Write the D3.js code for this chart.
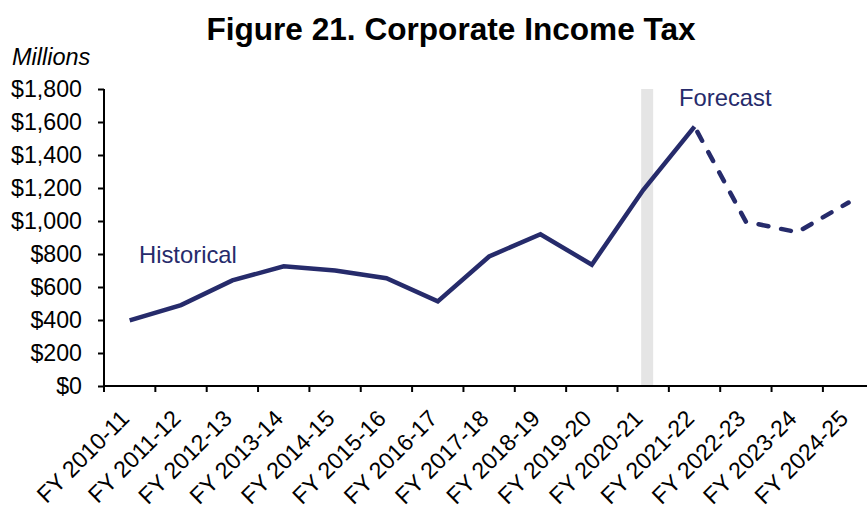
<!DOCTYPE html>
<html>
<head>
<meta charset="utf-8">
<script src="https://cdn.jsdelivr.net/npm/d3@7"></script>
<style>
  html, body { margin: 0; padding: 0; background: #fff; }
  svg { display: block; font-family: "Liberation Sans", Arial, sans-serif; }
</style>
</head>
<body>
<svg id="chart" width="867" height="508"></svg>
<script>
// Corporate income tax collections, millions of dollars, by fiscal year
const fiscalYears = [
  "FY 2010-11", "FY 2011-12", "FY 2012-13", "FY 2013-14", "FY 2014-15",
  "FY 2015-16", "FY 2016-17", "FY 2017-18", "FY 2018-19", "FY 2019-20",
  "FY 2020-21", "FY 2021-22", "FY 2022-23", "FY 2023-24", "FY 2024-25"
];
const revenue = [398, 490, 640, 725, 700, 653, 513, 785, 920, 735, 1188, 1572, 996, 932, 1112];
const yTickValues = [0, 200, 400, 600, 800, 1000, 1200, 1400, 1600, 1800];
const lastActualYear = "FY 2020-21";
const firstForecastYear = "FY 2021-22";

const navy = "#262b6b";
const tickFont = 23.2;
const svg = d3.select("#chart");

const plotLeft = 104, plotTop = 89, plotBottom = 386;
const step = 51.35;

const x = d3.scaleBand()
  .domain(fiscalYears)
  .range([plotLeft, plotLeft + step * fiscalYears.length])
  .paddingInner(0).paddingOuter(0);

const y = d3.scaleLinear().domain([0, 1800]).range([plotBottom, plotTop]);

const cx = d => x(d) + x.bandwidth() / 2;

// Title
svg.append("text")
  .attr("x", 451).attr("y", 40)
  .attr("text-anchor", "middle")
  .attr("font-size", 31.6).attr("font-weight", "bold")
  .attr("fill", "#000")
  .text("Figure 21. Corporate Income Tax");

// Units label
svg.append("text")
  .attr("x", 12).attr("y", 65)
  .attr("font-size", 23.5).attr("font-style", "italic")
  .attr("fill", "#000")
  .text("Millions");

// Divider between actual and forecast years
svg.append("rect")
  .attr("x", cx(lastActualYear) - 2)
  .attr("y", y(1800))
  .attr("width", 12)
  .attr("height", y(0) - y(1800))
  .attr("fill", "#e5e5e5");

// Y axis
const yAxis = d3.axisLeft(y)
  .tickValues(yTickValues)
  .tickSize(6)
  .tickPadding(16)
  .tickFormat(d => "$" + d3.format(",")(d));

const gy = svg.append("g")
  .attr("transform", `translate(${plotLeft},0)`)
  .call(yAxis);
gy.select(".domain").attr("stroke", "#000").attr("stroke-width", 2)
  .attr("d", `M0,${plotTop}V${plotBottom}`);
gy.selectAll(".tick line").attr("stroke", "#000").attr("stroke-width", 2);
gy.selectAll(".tick text")
  .attr("font-size", tickFont).attr("fill", "#000")
  .attr("font-family", "Liberation Sans, Arial, sans-serif");

// X axis with ticks at category boundaries
const gx = svg.append("g").attr("transform", `translate(0,${plotBottom})`);
gx.append("line")
  .attr("x1", plotLeft).attr("x2", 867)
  .attr("stroke", "#000").attr("stroke-width", 2);
gx.selectAll(".tick-mark")
  .data(fiscalYears)
  .join("line")
  .attr("class", "tick-mark")
  .attr("x1", d => x(d)).attr("x2", d => x(d))
  .attr("y1", 0).attr("y2", 6)
  .attr("stroke", "#000").attr("stroke-width", 2);
gx.selectAll(".tick-label")
  .data(fiscalYears)
  .join("text")
  .attr("class", "tick-label")
  .attr("text-anchor", "end")
  .attr("font-size", tickFont)
  .attr("fill", "#000")
  .attr("transform", d => `translate(${cx(d) + 1},34) rotate(-45)`)
  .text(d => d);

// Revenue line: solid through the first forecast year, dashed afterwards
const line = d3.line()
  .x(d => cx(d.year))
  .y(d => y(d.value));

const points = fiscalYears.map((year, i) => ({ year, value: revenue[i] }));
const splitIndex = fiscalYears.indexOf(firstForecastYear);

svg.append("path")
  .datum(points.slice(0, splitIndex + 1))
  .attr("fill", "none")
  .attr("stroke", navy)
  .attr("stroke-width", 4.5)
  .attr("stroke-linejoin", "miter")
  .attr("d", line);

svg.append("path")
  .datum(points.slice(splitIndex))
  .attr("fill", "none")
  .attr("stroke", navy)
  .attr("stroke-width", 4.5)
  .attr("stroke-linecap", "round")
  .attr("stroke-dasharray", "10,13")
  .attr("stroke-dashoffset", -6)
  .attr("d", line);

// Section labels
svg.append("text")
  .attr("x", 139).attr("y", 263)
  .attr("font-size", 23.8).attr("fill", navy)
  .text("Historical");

svg.append("text")
  .attr("x", 679).attr("y", 106)
  .attr("font-size", 23.8).attr("fill", navy)
  .text("Forecast");
</script>
</body>
</html>
